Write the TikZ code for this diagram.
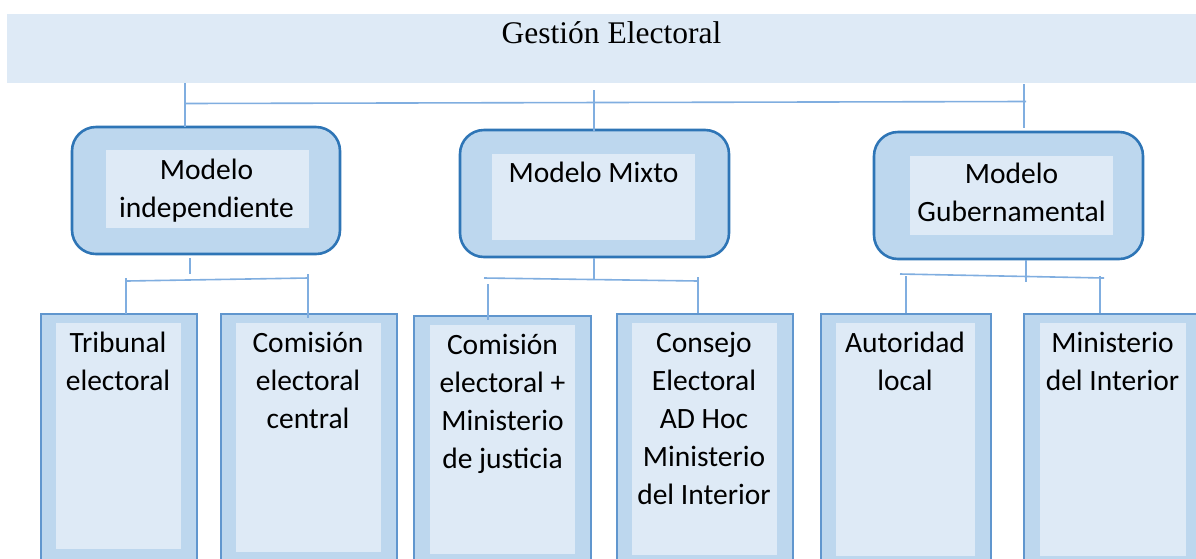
\documentclass[tikz,border=0pt]{standalone}
\usepackage{fontspec}
\setmainfont{Liberation Serif}
\newfontfamily\calibrifont{Carlito}
\definecolor{pale}{RGB}{222,234,246}
\definecolor{mid}{RGB}{189,215,238}
\definecolor{edge}{RGB}{46,117,182}
\definecolor{thinedge}{RGB}{96,150,206}
\definecolor{linkc}{RGB}{128,174,224}
\tikzset{
  banner/.style={fill=pale, draw=none, inner sep=0},
  modelbox/.style={fill=mid, draw=edge, line width=2.6pt, rounded corners=24pt, inner sep=0},
  innerbox/.style={fill=pale, draw=none, inner sep=0},
  leafbox/.style={fill=mid, draw=thinedge, line width=1.5pt, inner sep=0},
  link/.style={draw=linkc, line width=1.6pt},
  lbl/.style={inner sep=0, anchor=base},
}
\newcommand{\lines}[1]{\parbox[t]{200pt}{\centering\calibrifont\fontsize{29.5}{38}\selectfont #1}}
\begin{document}
\begin{tikzpicture}[x=1pt,y=-1pt]
\clip (0,0) rectangle (1196,558);
\fill[white] (0,0) rectangle (1196,558);
% banner
\node[banner, minimum width=1200pt, minimum height=69pt] (top) at (607,48.5) {};
\node[lbl, font=\fontsize{31.5}{36}\selectfont] (title) at (611.5,43) {Gestión Electoral};
% model boxes
\node[modelbox, minimum width=268pt, minimum height=127pt] (m1) at (206,190.5) {};
\node[innerbox, minimum width=203pt, minimum height=78pt] (m1i) at (207.5,189) {};
\node[lbl] (m1t) at (206.5,179) {\lines{Modelo\\independiente}};
\node[modelbox, minimum width=269pt, minimum height=127pt] (m2) at (594.5,193.5) {};
\node[innerbox, minimum width=203pt, minimum height=86pt] (m2i) at (593.5,197) {};
\node[lbl] (m2t) at (593.5,182) {\lines{Modelo Mixto}};
\node[modelbox, minimum width=269pt, minimum height=127pt] (m3) at (1008.5,195.5) {};
\node[innerbox, minimum width=203pt, minimum height=79pt] (m3i) at (1011.5,195.5) {};
\node[lbl] (m3t) at (1011.5,183) {\lines{Modelo\\Gubernamental}};
% leaf boxes
\node[leafbox, minimum width=156pt, minimum height=260pt, anchor=north west] (l1) at (40,313) {};
\node[innerbox, minimum width=125pt, minimum height=226pt, anchor=north west] (l1i) at (56,323) {};
\node[lbl] (l1t) at (118,352) {\lines{Tribunal\\electoral}};
\node[leafbox, minimum width=176pt, minimum height=260pt, anchor=north west] (l2) at (220,313) {};
\node[innerbox, minimum width=145pt, minimum height=229pt, anchor=north west] (l2i) at (236,323) {};
\node[lbl] (l2t) at (308,352) {\lines{Comisión\\electoral\\central}};
\node[leafbox, minimum width=177pt, minimum height=260pt, anchor=north west] (l3) at (413,315) {};
\node[innerbox, minimum width=145pt, minimum height=229pt, anchor=north west] (l3i) at (430,325) {};
\node[lbl] (l3t) at (502.5,354) {\lines{Comisión\\electoral +\\Ministerio\\de justicia}};
\node[leafbox, minimum width=176pt, minimum height=260pt, anchor=north west] (l4) at (616,313) {};
\node[innerbox, minimum width=145pt, minimum height=232pt, anchor=north west] (l4i) at (632,323) {};
\node[lbl] (l4t) at (704,352) {\lines{Consejo\\Electoral\\AD Hoc\\Ministerio\\del Interior}};
\node[leafbox, minimum width=170pt, minimum height=260pt, anchor=north west] (l5) at (820,313) {};
\node[innerbox, minimum width=139pt, minimum height=233pt, anchor=north west] (l5i) at (836,323) {};
\node[lbl] (l5t) at (905,352) {\lines{Autoridad\\local}};
\node[leafbox, minimum width=180pt, minimum height=260pt, anchor=north west] (l6) at (1023,313) {};
\node[innerbox, minimum width=146pt, minimum height=233pt, anchor=north west] (l6i) at (1040,323) {};
\node[lbl] (l6t) at (1112.5,352) {\lines{Ministerio\\del Interior}};
% connector points
\coordinate (a1) at (185,83);   \coordinate (a2) at (185,127);
\coordinate (h1) at (184,103.5);\coordinate (h2) at (1026,101.5);
\coordinate (c1) at (594,90);   \coordinate (c2) at (594,131);
\coordinate (r1) at (1024,84);  \coordinate (r2) at (1024,128);
% group 1
\coordinate (s1a) at (190,258); \coordinate (s1b) at (190,274);
\coordinate (g1a) at (127,281); \coordinate (g1b) at (308,278);
\coordinate (v1a) at (126,278); \coordinate (v1b) at (126,314);
\coordinate (w1a) at (308,274); \coordinate (w1b) at (308,318);
% group 2
\coordinate (s2a) at (594,258); \coordinate (s2b) at (594,280);
\coordinate (g2a) at (484,278); \coordinate (g2b) at (698,281);
\coordinate (v2a) at (488,284); \coordinate (v2b) at (488,320);
\coordinate (w2a) at (698,277); \coordinate (w2b) at (698,313);
% group 3
\coordinate (s3a) at (1026,260); \coordinate (s3b) at (1026,282);
\coordinate (g3a) at (900,274);  \coordinate (g3b) at (1104,278);
\coordinate (v3a) at (906,276);  \coordinate (v3b) at (906,313);
\coordinate (w3a) at (1100,276); \coordinate (w3b) at (1100,313);
\foreach \p/\q in {a1/a2,h1/h2,c1/c2,r1/r2,s1a/s1b,g1a/g1b,v1a/v1b,w1a/w1b,s2a/s2b,g2a/g2b,v2a/v2b,w2a/w2b,s3a/s3b,g3a/g3b,v3a/v3b,w3a/w3b}
  \draw[link] (\p) -- (\q);
\end{tikzpicture}
\end{document}
